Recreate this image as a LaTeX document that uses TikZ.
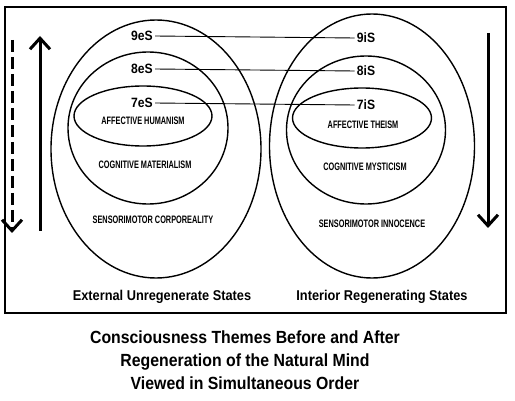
\documentclass[tikz,border=0pt]{standalone}
\usepackage{fontspec}
\setmainfont{Liberation Sans}
\newfontfamily\themefont[FakeStretch=0.68]{Liberation Sans}
\newfontfamily\capfont[FakeStretch=0.9]{Liberation Sans}
\usepackage{xcolor}
\definecolor{cLine}{HTML}{000000}
\usepackage{tikz}
\usetikzlibrary{positioning,arrows.meta,shapes.geometric}
\tikzset{
  ring/.style={draw=cLine,ellipse,line width=1.4pt,inner sep=0pt},
  state-lbl/.style={font=\capfont\fontsize{13.5}{14}\selectfont\bfseries,inner sep=2pt},
  theme-lbl/.style={font=\themefont\fontsize{10.8}{12}\selectfont\bfseries,inner sep=0pt},
  side-lbl/.style={font=\capfont\fontsize{14.2}{15}\selectfont\bfseries,inner sep=0pt},
  link/.style={draw=cLine,line width=0.9pt},
  arrow-flow/.style={-{Straight Barb[length=11pt,width=20pt]},line width=3pt,draw=cLine},
  arrow-flow-dash/.style={arrow-flow,dash pattern=on 12pt off 5pt},
}
\begin{document}
\begin{tikzpicture}[x=1pt,y=-1pt]
  \useasboundingbox (0,0) rectangle (515,401);
  \draw[cLine,line width=1.2pt] (5,7) rectangle (506,313);
  % external (left) rings
  \node[ring,minimum width=210pt,minimum height=258pt] (eOut) at (156,149) {};
  \node[ring,minimum width=160pt,minimum height=152pt] (eMid) at (148,128) {};
  \node[ring,minimum width=138pt,minimum height=60pt]  (eIn)  at (143,116) {};
  % interior (right) rings
  \node[ring,minimum width=205pt,minimum height=264pt] (iOut) at (372,146) {};
  \node[ring,minimum width=159pt,minimum height=148pt] (iMid) at (366,130) {};
  \node[ring,minimum width=139pt,minimum height=60pt]  (iIn)  at (362,118) {};
  % state labels
  \node[state-lbl] (e9) at (142,36) {9eS};
  \node[state-lbl] (e8) at (142,69) {8eS};
  \node[state-lbl] (e7) at (142,103) {7eS};
  \node[state-lbl] (i9) at (366,38) {9iS};
  \node[state-lbl] (i8) at (366,71) {8iS};
  \node[state-lbl] (i7) at (366,105) {7iS};
  \draw[link] (e9.east) -- (i9.west);
  \draw[link] (e8.east) -- (i8.west);
  \draw[link] (e7.east) -- (i7.west);
  % themes
  \node[theme-lbl] (eAff) at (143,121) {AFFECTIVE HUMANISM};
  \node[theme-lbl] (eCog) at (145,165) {COGNITIVE MATERIALISM};
  \node[theme-lbl] (eSen) at (153,220) {SENSORIMOTOR CORPOREALITY};
  \node[theme-lbl] (iAff) at (363,125) {AFFECTIVE THEISM};
  \node[theme-lbl] (iCog) at (365,167) {COGNITIVE MYSTICISM};
  \node[theme-lbl] (iSen) at (372,224) {SENSORIMOTOR INNOCENCE};
  \node[side-lbl] (eSide) at (162,297) {External Unregenerate States};
  \node[side-lbl] (iSide) at (382,297) {Interior Regenerating States};
  % flow arrows
  \coordinate (dashTop) at (12,40);
  \coordinate (dashBot) at (12,233);
  \coordinate (upBot) at (40,231);
  \coordinate (upTop) at (40,36);
  \coordinate (dnTop) at (488,33);
  \coordinate (dnBot) at (488,228);
  \draw[arrow-flow-dash] (dashTop) -- (dashBot);
  \draw[arrow-flow] (upBot) -- (upTop);
  \draw[arrow-flow] (dnTop) -- (dnBot);
  % caption
  \node[font=\capfont\fontsize{17.6}{23}\selectfont\bfseries,align=center] (title) at (245,360)
    {Consciousness Themes Before and After\\Regeneration of the Natural Mind\\Viewed in Simultaneous Order};
\end{tikzpicture}
\end{document}
